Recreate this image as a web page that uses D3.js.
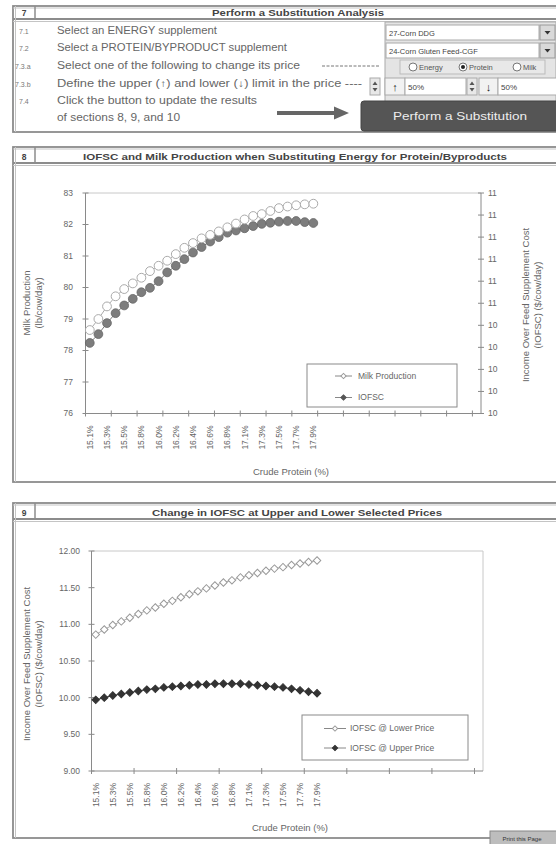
<!DOCTYPE html>
<html><head><meta charset="utf-8">
<script src="https://cdn.jsdelivr.net/npm/d3@7"></script>
<style>
body{margin:0;background:#fff}
svg{display:block}
text{font-family:"Liberation Sans",Arial,sans-serif}
</style>
</head><body>
<svg id="c" width="556" height="844"></svg>
<script>
// ---------------- DATA ----------------
const crudeProtein = ["15.1%","15.2%","15.3%","15.4%","15.5%","15.7%","15.8%","15.9%","16.0%","16.1%","16.2%","16.3%","16.4%","16.5%","16.6%","16.7%","16.8%","17.0%","17.1%","17.2%","17.3%","17.4%","17.5%","17.6%","17.7%","17.8%","17.9%"];
const milkProduction = [78.65,79.00,79.40,79.72,79.95,80.13,80.31,80.52,80.69,80.85,81.06,81.26,81.41,81.56,81.67,81.78,81.91,82.03,82.16,82.27,82.33,82.43,82.52,82.57,82.61,82.64,82.66];
const iofscBase = [10.32,10.36,10.41,10.455,10.49,10.52,10.55,10.57,10.60,10.64,10.67,10.70,10.73,10.755,10.78,10.80,10.82,10.83,10.84,10.85,10.86,10.865,10.87,10.873,10.873,10.868,10.864];
const iofscLower = [10.86,10.93,10.99,11.04,11.09,11.14,11.19,11.23,11.28,11.32,11.37,11.41,11.45,11.49,11.53,11.57,11.60,11.64,11.67,11.70,11.73,11.76,11.78,11.81,11.83,11.85,11.87];
const iofscUpper = [9.97,10.00,10.03,10.05,10.07,10.09,10.11,10.12,10.14,10.15,10.16,10.17,10.18,10.18,10.19,10.19,10.19,10.19,10.18,10.17,10.16,10.15,10.14,10.12,10.10,10.08,10.06];
const milkTicks = [76,77,78,79,80,81,82,83];
const iofscRightTicks = [10.0,10.1,10.2,10.3,10.4,10.5,10.6,10.7,10.8,10.9,11.0];
const iofscRightTickLabels = ["10","10","10","10","10","11","11","11","11","11","11"];
const changeTicks = [9.0,9.5,10.0,10.5,11.0,11.5,12.0];
const categorySlots = 46;   // category axis length (Excel range incl. empty rows)
const legend8 = ["Milk Production","IOFSC"];
const legend9 = ["IOFSC @ Lower Price","IOFSC @ Upper Price"];

// ---------------- HELPERS ----------------
const S = d3.select("#c");
const FR = "#8c8c8c";
function txt(x,y,s,o={}){
  const t=S.append("text").attr("x",x).attr("y",y).text(s)
    .attr("font-size",o.size||9).attr("fill",o.fill||"#555")
    .attr("text-anchor",o.anchor||"start");
  if(o.bold) t.attr("font-weight","bold");
  if(o.len) t.attr("textLength",o.len).attr("lengthAdjust","spacingAndGlyphs");
  if(o.rot!=null) t.attr("transform",`rotate(${o.rot},${x},${y})`);
  if(o.dy) t.attr("dy",o.dy);
  return t;
}
function ln(x1,y1,x2,y2,c,w){S.append("line").attr("x1",x1).attr("y1",y1).attr("x2",x2).attr("y2",y2).attr("stroke",c||FR).attr("stroke-width",w||1);}
function rect(x,y,w,h,fill,stroke,sw){return S.append("rect").attr("x",x).attr("y",y).attr("width",w).attr("height",h).attr("fill",fill||"none").attr("stroke",stroke||"none").attr("stroke-width",sw||1);}

function frame(y0,hb,y1,num,title,cx,tw){
  rect(13,y0,600,y1-y0,"none",FR,1.8);
  ln(13,y0+2,556,y0+2,"#c4c4c4",1);
  ln(13,hb,556,hb,FR,1.8);
  ln(13,hb+2.5,556,hb+2.5,"#c4c4c4",1);
  ln(35,y0,35,hb,FR,1.5);
  ln(15.5,y0,15.5,y1,"#c4c4c4",1);
  txt(24,hb-3.5,num,{size:8.5,bold:true,anchor:"middle",fill:"#444"});
  txt(cx,hb-3.5,title,{size:9.5,bold:true,anchor:"middle",fill:"#444",len:tw});
}

// ---------------- SECTION 7 ----------------
frame(6,19,132,"7","Perform a Substitution Analysis",298,172);
const rows=[
  ["7.1","Select an ENERGY supplement",34,160],
  ["7.2","Select a PROTEIN/BYPRODUCT supplement",51,230],
  ["7.3.a","Select one of the following to change its price",69,243],
  ["7.3.b","Define the upper (\u2191) and lower (\u2193) limit in the price ----",87,305],
  ["7.4","Click the button to update the results",104,200],
  ["","of sections 8, 9, and 10",121,123]];
rows.forEach(r=>{
  if(r[0]) txt(r[0].length>3?15:19,r[2],r[0],{size:7,fill:"#777"});
  txt(57,r[2],r[1],{size:10,fill:"#666",len:r[3]});
});
S.append("line").attr("x1",322).attr("x2",380).attr("y1",66).attr("y2",66).attr("stroke","#777").attr("stroke-dasharray","3,1.5");
// arrow
S.append("path").attr("d","M277,111 L334,111 L334,106.5 L349,113 L334,119.5 L334,115 L277,115 Z").attr("fill","#666");
// right panel
rect(385,22,171,80,"#e4e4e4","#aaa",1);
rect(386,25,153,15,"#fff","#aaa",1);
rect(540,25,15,15,"#d9d9d9","#999",1);
S.append("path").attr("d","M544.5,31 L550.5,31 L547.5,34.5 Z").attr("fill","#333");
txt(389,35.5,"27-Corn DDG",{size:7.5,fill:"#444"});
rect(386,43,153,15,"#fff","#aaa",1);
rect(540,43,15,15,"#d9d9d9","#999",1);
S.append("path").attr("d","M544.5,49 L550.5,49 L547.5,52.5 Z").attr("fill","#333");
txt(389,53.5,"24-Corn Gluten Feed-CGF",{size:7.5,fill:"#444"});
// radios
rect(400,60,145,14,"#e8e8e8","#bbb",1);
[[413,"Energy",false],[463,"Protein",true],[517,"Milk",false]].forEach(r=>{
  S.append("circle").attr("cx",r[0]).attr("cy",67).attr("r",4).attr("fill","#fff").attr("stroke","#777");
  if(r[2]) S.append("circle").attr("cx",r[0]).attr("cy",67).attr("r",2).attr("fill","#222");
  txt(r[0]+6,70,r[1],{size:7.5,fill:"#555"});
});
// spinners row
function spin(x){rect(x,78,10,17,"#e8e8e8","#aaa",1);
  S.append("path").attr("d",`M${x+2.5},85 L${x+7.5},85 L${x+5},81.5 Z`).attr("fill","#555");
  S.append("path").attr("d",`M${x+2.5},88 L${x+7.5},88 L${x+5},91.5 Z`).attr("fill","#555");}
spin(370); spin(467);
rect(385,78,20,17,"#f2f2f2","#aaa",1); txt(395,90.5,"\u2191",{size:11,anchor:"middle",fill:"#222",bold:true});
rect(405,78,61,17,"#fff","#aaa",1); txt(408,90,"50%",{size:8,fill:"#444"});
rect(479,78,19,17,"#f2f2f2","#aaa",1); txt(488.5,90.5,"\u2193",{size:11,anchor:"middle",fill:"#222",bold:true});
rect(498,78,60,17,"#fff","#aaa",1); txt(501,90,"50%",{size:8,fill:"#444"});
// button
S.append("rect").attr("x",361).attr("y",101).attr("width",200).attr("height",30).attr("rx",3).attr("fill","#555").attr("stroke","#444");
txt(460,119.5,"Perform a Substitution",{size:10.5,fill:"#eee",anchor:"middle",len:134});

// ---------------- SECTION 8 ----------------
frame(147,163,482,"8","IOFSC and Milk Production when Substituting Energy for Protein/Byproducts",295,424);
(function(){
  const L=85.5,R=481,T=193,B=413.5;
  const x=d3.scaleBand().domain(d3.range(categorySlots)).range([L,R]);
  const xe=d3.scaleLinear().domain([0,categorySlots]).range([L,R]);
  const cx=i=>x(i)+x.bandwidth()/2;
  const yL=d3.scaleLinear().domain([76,83]).range([B,T]);
  const yR=d3.scaleLinear().domain([10,11]).range([B,T]);
  ln(L,T,R,T,"#c8c8c8",1);
  ln(L,T,L,B,"#8a8a8a",1); ln(R,T,R,B,"#8a8a8a",1); ln(L,B,R,B,"#8a8a8a",1);
  milkTicks.forEach(t=>{ln(L-3,yL(t),L+3,yL(t),"#8a8a8a");txt(73,yL(t),String(t),{size:8.5,anchor:"end",dy:"0.35em",fill:"#666"});});
  iofscRightTicks.forEach((t,k)=>{ln(R-3,yR(t),R+3,yR(t),"#8a8a8a");txt(488,yR(t),iofscRightTickLabels[k],{size:8.5,dy:"0.35em",fill:"#666"});});
  d3.range(0,categorySlots,3).forEach(k=>ln(xe(k),B-3,xe(k),B+3,"#8a8a8a"));
  crudeProtein.forEach((c,i)=>{ if(i%2===0) txt(cx(i)+3,B+12,c,{size:8.5,anchor:"end",rot:-90,fill:"#666"}); });
  txt(291,475,"Crude Protein (%)",{size:9.5,anchor:"middle",fill:"#666"});
  txt(30,303,"Milk Production",{size:9.5,anchor:"middle",rot:-90,fill:"#666"});
  txt(42,303,"(lb/cow/day)",{size:9.5,anchor:"middle",rot:-90,fill:"#666"});
  txt(529,305,"Income Over Feed Supplement Cost",{size:9.5,anchor:"middle",rot:-90,fill:"#666"});
  txt(541,305,"(IOFSC) ($/cow/day)",{size:9.5,anchor:"middle",rot:-90,fill:"#666"});
  const l1=d3.line().x((d,i)=>cx(i)).y(d=>yL(d));
  const l2=d3.line().x((d,i)=>cx(i)).y(d=>yR(d));
  S.append("path").attr("d",l1(milkProduction)).attr("fill","none").attr("stroke","#aaa");
  S.append("path").attr("d",l2(iofscBase)).attr("fill","none").attr("stroke","#777");
  S.append("g").selectAll("circle").data(iofscBase).join("circle")
    .attr("cx",(d,i)=>cx(i)).attr("cy",d=>yR(d)).attr("r",4.4).attr("fill","#7d7d7d").attr("stroke","#666").attr("stroke-width",0.8);
  S.append("g").selectAll("circle").data(milkProduction).join("circle")
    .attr("cx",(d,i)=>cx(i)).attr("cy",d=>yL(d)).attr("r",4.4).attr("fill","#fff").attr("stroke","#aaa").attr("stroke-width",1);
  // legend
  rect(307,364,150,43,"#fff","#8a8a8a",1);
  const dia=d3.symbol().type(d3.symbolSquare).size(14);
  [[376,"#fff","#999"],[397.5,"#555","#555"]].forEach((e,k)=>{
    ln(335,e[0],352,e[0],"#888");
    S.append("path").attr("d",dia()).attr("transform",`translate(343.5,${e[0]}) rotate(45)`).attr("fill",e[1]).attr("stroke",e[2]);
    txt(358,e[0],legend8[k],{size:8.5,dy:"0.35em",fill:"#666"});
  });
})();

// ---------------- SECTION 9 ----------------
frame(503,519,838,"9","Change in IOFSC at Upper and Lower Selected Prices",297,290);
(function(){
  const L=91.5,R=483,T=551,B=771;
  const x=d3.scaleBand().domain(d3.range(categorySlots)).range([L,R]);
  const xe=d3.scaleLinear().domain([0,categorySlots]).range([L,R]);
  const cx=i=>x(i)+x.bandwidth()/2;
  const y=d3.scaleLinear().domain([9,12]).range([B,T]);
  ln(L,T,R,T,"#c8c8c8",1); ln(R,T,R,B,"#c8c8c8",1);
  ln(L,T,L,B,"#8a8a8a",1); ln(L,B,R,B,"#8a8a8a",1);
  const f=d3.format(".2f");
  changeTicks.forEach(t=>{ln(L-3,y(t),L+3,y(t),"#8a8a8a");txt(80,y(t),f(t),{size:8.5,anchor:"end",dy:"0.35em",fill:"#666"});});
  d3.range(0,categorySlots,5).forEach(k=>ln(xe(k),B-3,xe(k),B+3,"#8a8a8a"));
  crudeProtein.forEach((c,i)=>{ if(i%2===0) txt(cx(i)+3,B+12,c,{size:8.5,anchor:"end",rot:-90,fill:"#666"}); });
  txt(290,831,"Crude Protein (%)",{size:9.5,anchor:"middle",fill:"#666"});
  txt(30,664,"Income Over Feed Supplement Cost",{size:9.5,anchor:"middle",rot:-90,fill:"#666"});
  txt(42,664,"(IOFSC) ($/cow/day)",{size:9.5,anchor:"middle",rot:-90,fill:"#666"});
  const line=d3.line().x((d,i)=>cx(i)).y(d=>y(d));
  S.append("path").attr("d",line(iofscLower)).attr("fill","none").attr("stroke","#aaa");
  S.append("path").attr("d",line(iofscUpper)).attr("fill","none").attr("stroke","#333");
  const sq=d3.symbol().type(d3.symbolSquare).size(28);
  S.append("g").selectAll("path").data(iofscLower).join("path").attr("d",sq())
    .attr("transform",(d,i)=>`translate(${cx(i)},${y(d)}) rotate(45)`).attr("fill","#fff").attr("stroke","#999");
  S.append("g").selectAll("path").data(iofscUpper).join("path").attr("d",sq())
    .attr("transform",(d,i)=>`translate(${cx(i)},${y(d)}) rotate(45)`).attr("fill","#333").attr("stroke","#333");
  rect(302,715,166,45,"#fff","#8a8a8a",1);
  const dia=d3.symbol().type(d3.symbolSquare).size(14);
  [[728.5,"#fff","#999"],[748,"#333","#333"]].forEach((e,k)=>{
    ln(324,e[0],346,e[0],"#888");
    S.append("path").attr("d",dia()).attr("transform",`translate(335,${e[0]}) rotate(45)`).attr("fill",e[1]).attr("stroke",e[2]);
    txt(350,e[0],legend9[k],{size:8.5,dy:"0.35em",fill:"#666"});
  });
})();
// print button
rect(490,831,70,14,"#bdbdbd","#888",1);
txt(522,840.5,"Print this Page",{size:6,anchor:"middle",fill:"#333"});
</script>
</body></html>
